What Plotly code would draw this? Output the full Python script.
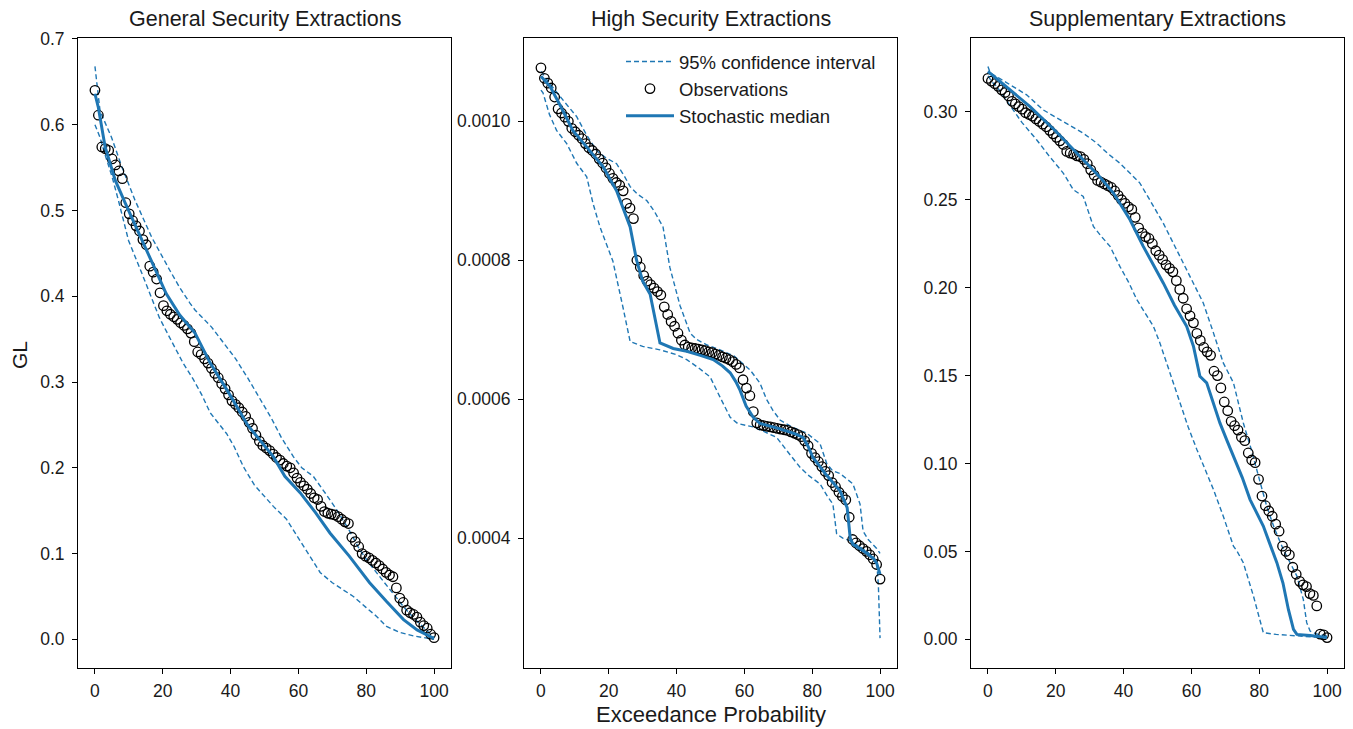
import numpy as np
import plotly.graph_objects as go

# ---------------- data ----------------
titles = ["General Security Extractions", "High Security Extractions", "Supplementary Extractions"]
x_ticks = [0, 20, 40, 60, 80, 100]

# Panel 1 - General Security
gs_obs = [0.640, 0.611, 0.574, 0.572, 0.570, 0.560, 0.553, 0.546, 0.537, 0.509,
          0.496, 0.488, 0.482, 0.476, 0.466, 0.460, 0.435, 0.428, 0.420, 0.404,
          0.389, 0.383, 0.379, 0.376, 0.373, 0.369, 0.366, 0.362, 0.357, 0.347,
          0.335, 0.332, 0.327, 0.322, 0.316, 0.310, 0.305, 0.298, 0.292, 0.285,
          0.278, 0.274, 0.270, 0.265, 0.260, 0.253, 0.246, 0.238, 0.231, 0.226,
          0.223, 0.220, 0.216, 0.212, 0.209, 0.205, 0.202, 0.200, 0.194, 0.188,
          0.183, 0.179, 0.175, 0.170, 0.165, 0.163, 0.155, 0.149, 0.147, 0.146,
          0.145, 0.143, 0.140, 0.137, 0.135, 0.119, 0.114, 0.108, 0.100, 0.097,
          0.095, 0.092, 0.089, 0.086, 0.082, 0.078, 0.075, 0.073, 0.060, 0.048,
          0.043, 0.034, 0.031, 0.029, 0.026, 0.020, 0.016, 0.013, 0.006, 0.002]
gs_med_x = [0, 1, 3, 6, 9, 12, 15, 18, 21, 25, 29.5, 34, 39.5, 45, 50, 52.6, 56, 60.5,
            65, 69.3, 75, 81, 86, 91, 95, 100]
gs_med_y = [0.636, 0.620, 0.574, 0.535, 0.508, 0.482, 0.457, 0.430, 0.403, 0.378, 0.357,
            0.322, 0.287, 0.250, 0.226, 0.213, 0.190, 0.171, 0.148, 0.124, 0.097, 0.066,
            0.044, 0.023, 0.011, 0.001]
gs_up_x = [0, 1.5, 4.9, 8, 11.8, 16.7, 22.1, 25, 28, 29.5, 34.4, 38, 41.5, 45, 48.5, 52,
           55, 58.5, 61, 64.4, 68, 71.3, 75, 78, 81, 84, 87.5, 91, 94, 96, 98, 100]
gs_up_y = [0.668, 0.616, 0.585, 0.550, 0.512, 0.469, 0.430, 0.410, 0.392, 0.384, 0.364,
           0.345, 0.327, 0.305, 0.281, 0.258, 0.235, 0.213, 0.200, 0.190, 0.170, 0.151,
           0.127, 0.105, 0.088, 0.073, 0.055, 0.038, 0.025, 0.017, 0.009, 0.002]
gs_lo_x = [0, 1.5, 2.9, 5, 6.9, 9.9, 13.8, 16, 19, 22, 26, 29, 31.5, 34, 38.8, 41, 43.8,
           47, 50, 52.6, 56.5, 60, 63, 66.4, 70, 73, 76.2, 80, 83, 86, 90, 94, 97, 100]
gs_lo_y = [0.600, 0.585, 0.566, 0.540, 0.512, 0.465, 0.427, 0.405, 0.375, 0.352, 0.322,
           0.303, 0.285, 0.264, 0.240, 0.225, 0.201, 0.180, 0.167, 0.155, 0.140, 0.118,
           0.098, 0.078, 0.066, 0.058, 0.050, 0.037, 0.027, 0.015, 0.008, 0.004, 0.002, 0.000]

# Panel 2 - High Security
hs_obs = [0.001077, 0.001062, 0.001055, 0.001048, 0.001035, 0.001018, 0.001012, 0.001006, 0.001000, 0.000990,
          0.000985, 0.000980, 0.000975, 0.000968, 0.000962, 0.000958, 0.000953, 0.000946, 0.000940, 0.000933,
          0.000925, 0.000918, 0.000912, 0.000908, 0.000900, 0.000882, 0.000875, 0.000860, 0.000800, 0.000790,
          0.000778, 0.000770, 0.000765, 0.000760, 0.000755, 0.000750, 0.000733, 0.000722, 0.000712, 0.000705,
          0.000695, 0.000685, 0.000678, 0.000675, 0.000674, 0.000673, 0.000672, 0.000671, 0.000670, 0.000668,
          0.000667, 0.000665, 0.000663, 0.000661, 0.000659, 0.000657, 0.000654, 0.000650, 0.000645, 0.000628,
          0.000616, 0.000605, 0.000582, 0.000566, 0.000563, 0.000562, 0.000561, 0.000560, 0.000559, 0.000558,
          0.000557, 0.000556, 0.000555, 0.000553, 0.000551, 0.000549, 0.000546, 0.000540, 0.000533, 0.000522,
          0.000516, 0.000510, 0.000503, 0.000496, 0.000490, 0.000480, 0.000474, 0.000466, 0.000460, 0.000455,
          0.000430, 0.000398, 0.000393, 0.000389, 0.000385, 0.000381, 0.000376, 0.000370, 0.000362, 0.000341]
hs_med_x = [0, 2.7, 6, 9.4, 14, 18.3, 22.3, 24.5, 26.3, 28.2, 30, 32.2, 34, 35.1, 39, 43, 47,
            50.8, 53.5, 55.8, 57.5, 58.7, 60.5, 62.6, 64.6, 70, 75, 77.3, 78.8, 80.2, 84,
            88.2, 90.3, 91.2, 92, 95, 98, 99, 100]
hs_med_y = [0.001065, 0.001050, 0.001020, 0.000987, 0.000960, 0.000935, 0.000900, 0.000870,
            0.000848, 0.000800, 0.000770, 0.000751, 0.000710, 0.000681, 0.000673, 0.000669,
            0.000663, 0.000657, 0.000648, 0.000638, 0.000625, 0.000613, 0.000590, 0.000574,
            0.000565, 0.000558, 0.000550, 0.000545, 0.000532, 0.000516, 0.000492, 0.000468,
            0.000444, 0.000400, 0.000391, 0.000382, 0.000371, 0.000364, 0.000348]
hs_up_x = [0, 2.5, 5.6, 10.5, 13.5, 16.4, 19, 22.3, 24.5, 26.3, 28.5, 31.2, 33.5, 36, 37.1,
           38, 41, 44, 45.9, 49, 52.8, 57, 61.7, 64.6, 66.5, 68.4, 70.5, 74, 78.4, 82.3,
           84.3, 86, 88.2, 92, 94.1, 95, 96.5, 98, 99, 100]
hs_up_y = [0.001072, 0.001055, 0.001036, 0.001007, 0.000980, 0.000958, 0.000948, 0.000939,
           0.000922, 0.000906, 0.000895, 0.000886, 0.000870, 0.000848, 0.000816, 0.000790,
           0.000735, 0.000695, 0.000686, 0.000678, 0.000671, 0.000662, 0.000642, 0.000623,
           0.000600, 0.000584, 0.000570, 0.000560, 0.000551, 0.000536, 0.000507, 0.000497,
           0.000493, 0.000478, 0.000449, 0.000410, 0.000398, 0.000391, 0.000385, 0.000378]
hs_lo_x = [0, 0.6, 2.5, 4.6, 7.6, 10.5, 13.5, 15.4, 17.4, 19.5, 21.2, 24.2, 26.3, 30, 35.1,
           40, 43, 46.5, 49.9, 52.8, 55.8, 58, 62.6, 66, 69.5, 72.5, 76.4, 79, 82.3, 84.5,
           86.1, 87.2, 89, 91.2, 96.1, 99, 99.5, 100]
hs_lo_y = [0.001045, 0.001041, 0.001010, 0.000987, 0.000968, 0.000940, 0.000920, 0.000881,
           0.000848, 0.000822, 0.000799, 0.000732, 0.000683, 0.000676, 0.000671, 0.000664,
           0.000657, 0.000645, 0.000632, 0.000603, 0.000574, 0.000565, 0.000560, 0.000553,
           0.000545, 0.000526, 0.000502, 0.000490, 0.000478, 0.000460, 0.000449, 0.000406,
           0.000400, 0.000396, 0.000381, 0.000367, 0.000333, 0.000256]

# Panel 3 - Supplementary
sp_obs = [0.3190, 0.3175, 0.3160, 0.3145, 0.3125, 0.3110, 0.3090, 0.3060, 0.3045, 0.3030,
          0.3015, 0.2995, 0.2985, 0.2975, 0.2960, 0.2945, 0.2930, 0.2915, 0.2895, 0.2875,
          0.2855, 0.2835, 0.2815, 0.2775, 0.2765, 0.2760, 0.2750, 0.2745, 0.2730, 0.2705,
          0.2670, 0.2640, 0.2610, 0.2600, 0.2590, 0.2580, 0.2570, 0.2550, 0.2525, 0.2500,
          0.2480, 0.2460, 0.2445, 0.2400, 0.2340, 0.2310, 0.2290, 0.2280, 0.2250, 0.2210,
          0.2185, 0.2160, 0.2130, 0.2110, 0.2090, 0.2040, 0.1990, 0.1940, 0.1880, 0.1840,
          0.1800, 0.1740, 0.1700, 0.1660, 0.1635, 0.1615, 0.1525, 0.1500, 0.1430, 0.1350,
          0.1300, 0.1240, 0.1215, 0.1190, 0.1150, 0.1130, 0.1060, 0.1020, 0.1005, 0.0910,
          0.0815, 0.0760, 0.0730, 0.0700, 0.0655, 0.0615, 0.0530, 0.0500, 0.0480, 0.0410,
          0.0370, 0.0330, 0.0310, 0.0300, 0.0260, 0.0250, 0.0190, 0.0030, 0.0025, 0.0010]
sp_med_x = [0, 5, 12.4, 20, 28.1, 33, 37, 41.9, 45.8, 48.5, 51.7, 55, 58.6, 60.6, 62.5, 64.5,
            66.5, 68.4, 70.5, 72.4, 75, 77.3, 79.5, 81.2, 83, 85.2, 87, 88.6, 90.1, 91.1, 95, 100]
sp_med_y = [0.3230, 0.3150, 0.3030, 0.2890, 0.2727, 0.2630, 0.2538, 0.2386, 0.2235, 0.2140,
            0.2027, 0.1900, 0.1780, 0.1667, 0.1496, 0.1459, 0.1340, 0.1231, 0.1130, 0.1042,
            0.0920, 0.0795, 0.0710, 0.0644, 0.0550, 0.0436, 0.0320, 0.0170, 0.0057, 0.0028,
            0.0022, 0.0010]
sp_up_x = [0, 0.7, 2.6, 6, 11.4, 16.3, 20, 24.2, 28, 32.1, 35.5, 38.9, 41.5, 44.8, 48, 51.7,
           55, 58.6, 61, 63.5, 66.5, 69.4, 72.4, 75.3, 77.5, 79.3, 82.2, 84.5, 87.1, 89, 91.1,
           93, 94, 95, 97, 100]
sp_up_y = [0.3258, 0.3220, 0.3200, 0.3160, 0.3097, 0.3011, 0.2970, 0.2926, 0.2880, 0.2822,
           0.2760, 0.2708, 0.2660, 0.2595, 0.2490, 0.2367, 0.2240, 0.2102, 0.2010, 0.1913,
           0.1743, 0.1572, 0.1459, 0.1231, 0.1090, 0.0966, 0.0757, 0.0630, 0.0511, 0.0440,
           0.0360, 0.0227, 0.0095, 0.0047, 0.0030, 0.0020]
sp_lo_x = [0, 1.2, 2.6, 4.5, 6.5, 10, 14.4, 18, 22.2, 25.2, 28.1, 31.1, 33.5, 36, 38.9, 41.5,
           43.9, 46.5, 48.8, 50.7, 53.7, 56.6, 59, 61.6, 64, 66.5, 69.4, 72.4, 73.5, 75.3,
           78.3, 80, 81.2, 85, 91, 96, 100]
sp_lo_y = [0.3205, 0.3170, 0.3144, 0.3090, 0.3040, 0.2940, 0.2840, 0.2750, 0.2652, 0.2557,
           0.2519, 0.2348, 0.2290, 0.2235, 0.2121, 0.2030, 0.1932, 0.1850, 0.1780, 0.1686,
           0.1515, 0.1345, 0.1210, 0.1080, 0.0970, 0.0852, 0.0700, 0.0530, 0.0500, 0.0436,
           0.0246, 0.0120, 0.0038, 0.0028, 0.0019, 0.0012, 0.0008]

y_ranges = [[-0.0334, 0.7010], [0.000213, 0.001120], [-0.0163, 0.3420]]
y_ticks = [[0.0, 0.1, 0.2, 0.3, 0.4, 0.5, 0.6, 0.7],
           [0.0004, 0.0006, 0.0008, 0.0010],
           [0.00, 0.05, 0.10, 0.15, 0.20, 0.25, 0.30]]
y_fmt = [".1f", ".4f", ".2f"]

panels = [
    (gs_obs, gs_med_x, gs_med_y, gs_up_x, gs_up_y, gs_lo_x, gs_lo_y),
    (hs_obs, hs_med_x, hs_med_y, hs_up_x, hs_up_y, hs_lo_x, hs_lo_y),
    (sp_obs, sp_med_x, sp_med_y, sp_up_x, sp_up_y, sp_lo_x, sp_lo_y),
]

# ---------------- layout ----------------
W, H = 1353, 729
BLUE = "#1f77b4"
FONT = "Liberation Sans, Arial, sans-serif"
TXT = "#1a1a1a"
px_left = [78, 524, 971]
px_w = 373
y_top, y_bot = 38, 668

fig = go.Figure()
for k, (obs, mx, my, ux, uy, lx, ly) in enumerate(panels):
    xa = "x" if k == 0 else f"x{k+1}"
    ya = "y" if k == 0 else f"y{k+1}"
    show = (k == 1)
    obs_x = np.linspace(0, 100, len(obs))
    fig.add_trace(go.Scatter(x=ux, y=uy, mode="lines", xaxis=xa, yaxis=ya,
                             line=dict(color=BLUE, width=1.4, dash="5px,3px"),
                             name="95% confidence interval", showlegend=show,
                             legendrank=1))
    fig.add_trace(go.Scatter(x=lx, y=ly, mode="lines", xaxis=xa, yaxis=ya,
                             line=dict(color=BLUE, width=1.4, dash="5px,3px"),
                             showlegend=False))
    fig.add_trace(go.Scatter(x=obs_x, y=obs, mode="markers", xaxis=xa, yaxis=ya,
                             marker=dict(symbol="circle-open", size=9.5,
                                         color="black", line=dict(color="black", width=1.3)),
                             name="Observations", showlegend=show, legendrank=2))
    fig.add_trace(go.Scatter(x=mx, y=my, mode="lines", xaxis=xa, yaxis=ya,
                             line=dict(color=BLUE, width=3),
                             name="Stochastic median", showlegend=show, legendrank=3))

    axis_common = dict(showline=True, linecolor="black", linewidth=1, mirror=True,
                       ticks="outside", ticklen=5, tickcolor="black", tickwidth=1,
                       showgrid=False, zeroline=False, automargin=False,
                       tickfont=dict(family=FONT, size=17.5, color=TXT))
    xd = [px_left[k] / W, (px_left[k] + px_w) / W]
    yd = [(H - y_bot) / H, (H - y_top) / H]
    fig.layout[f"xaxis{'' if k == 0 else k+1}"] = dict(
        domain=xd, range=[-5, 105], tickvals=x_ticks, anchor=ya,
        ticklabelstandoff=2, **axis_common)
    fig.layout[f"yaxis{'' if k == 0 else k+1}"] = dict(
        domain=yd, range=y_ranges[k], tickvals=y_ticks[k], tickformat=y_fmt[k],
        anchor=xa, ticklabelstandoff=4, **axis_common)
    fig.add_annotation(text=titles[k], x=(px_left[k] + px_w / 2) / W, y=(H - 19) / H,
                       xref="paper", yref="paper", showarrow=False,
                       xanchor="center", yanchor="middle",
                       font=dict(family=FONT, size=21.5, color=TXT))

fig.add_annotation(text="Exceedance Probability", x=(524 + px_w / 2) / W, y=(H - 714) / H,
                   xref="paper", yref="paper", showarrow=False, xanchor="center",
                   yanchor="middle", font=dict(family=FONT, size=22, color=TXT))
fig.add_annotation(text="GL", x=19 / W, y=(H - 355) / H, textangle=-90,
                   xref="paper", yref="paper", showarrow=False, xanchor="center",
                   yanchor="middle", font=dict(family=FONT, size=21, color=TXT))

fig.update_layout(
    width=W, height=H, margin=dict(l=0, r=0, t=0, b=0, autoexpand=False),
    paper_bgcolor="white", plot_bgcolor="white",
    legend=dict(x=621 / W, y=(H - 43) / H, xanchor="left", yanchor="top",
                bgcolor="rgba(0,0,0,0)", borderwidth=0,
                font=dict(family=FONT, size=18.5, color=TXT),
                tracegroupgap=0, itemwidth=48),
)

fig.write_html(
    "out.html",
    config={"displayModeBar": False},
    post_script="document.body.style.margin='0';document.body.style.padding='0';"
                "document.body.style.overflow='hidden';"
                "document.documentElement.style.overflow='hidden';",
)
